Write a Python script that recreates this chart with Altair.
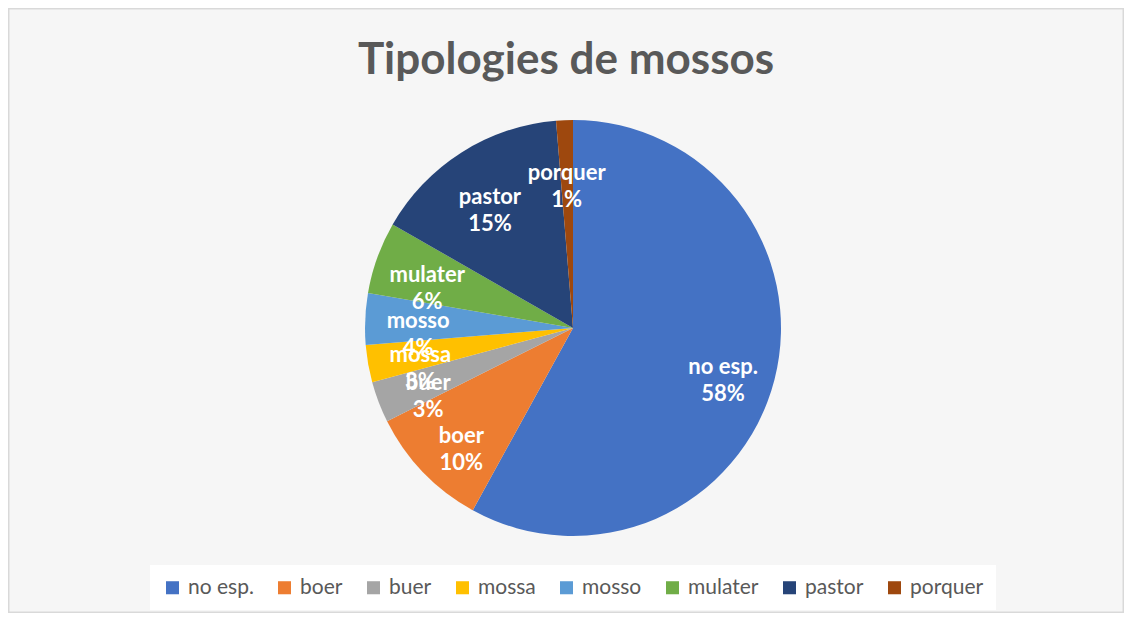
import altair as alt
import pandas as pd

names = ["no esp.", "boer", "buer", "mossa", "mosso", "mulater", "pastor", "porquer"]
values = [58.0, 9.6, 3.2, 2.9, 4.0, 5.6, 15.4, 1.3]
colors = ["#4472C4", "#ED7D31", "#A5A5A5", "#FFC000", "#5B9BD5", "#70AD47", "#264478", "#9E480E"]
title_text = "Tipologies de mossos"

df = pd.DataFrame({
    "name": names,
    "value": values,
    "idx": list(range(len(names))),
    "label": [f"{n}\n{round(v)}%" for n, v in zip(names, values)],
})

FONT = "Lato"
CX, CY, R = 565, 320, 208

base = alt.Chart(df).encode(
    theta=alt.Theta("value:Q", stack=True),
    order=alt.Order("idx:Q"),
)

pie = base.mark_arc(outerRadius=R, strokeWidth=0).encode(
    x=alt.value(CX),
    y=alt.value(CY),
    color=alt.Color(
        "name:N",
        scale=alt.Scale(domain=names, range=colors),
        sort=names,
        legend=alt.Legend(
            title=None,
            orient="none",
            legendX=142,
            legendY=557,
            direction="horizontal",
            columns=8,
            symbolType="square",
            symbolSize=170,
            symbolStrokeWidth=0,
            labelFont=FONT,
            labelFontSize=21,
            labelColor="#595959",
            columnPadding=20,
            fillColor="white",
            padding=12,
            labelOffset=5,
        ),
    ),
)

labels = base.mark_text(
    radius=155,
    font=FONT,
    fontSize=22,
    fontWeight="bold",
    color="white",
    lineBreak="\n",
    lineHeight=27,
    align="center",
    baseline="middle",
).encode(
    x=alt.value(CX),
    y=alt.value(CY),
    text="label:N",
)

chart = alt.layer(pie, labels).properties(
    width=1116,
    height=605,
    autosize=alt.AutoSizeParams(type="none"),
    padding=0,
    background="#f6f6f6",
    title=alt.TitleParams(
        text=title_text,
        font=FONT,
        fontSize=44,
        fontWeight="bold",
        color="#595959",
        anchor="middle",
        frame="group",
        orient="top",
        baseline="alphabetic",
        offset=0,
        dy=110,
    ),
).configure_view(stroke="#d9d9d9", strokeWidth=3)

chart.save("out.html", embed_options={"renderer": "svg", "actions": False})
